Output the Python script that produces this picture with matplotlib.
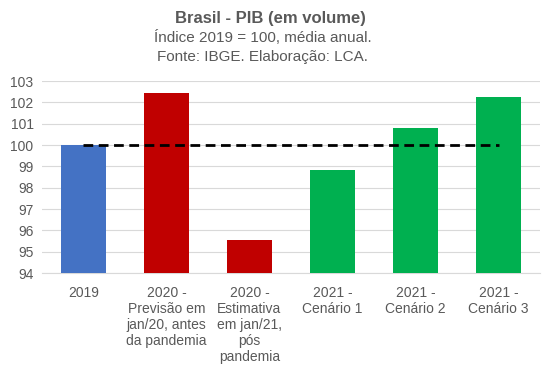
import matplotlib
matplotlib.use("Agg")
import matplotlib.pyplot as plt

plt.rcParams['font.family'] = ['Liberation Sans', 'DejaVu Sans']

categorias = ["2019", "2020 -\nPrevisão em\njan/20, antes\nda pandemia",
              "2020 -\nEstimativa\nem jan/21,\npós\npandemia",
              "2021 -\nCenário 1", "2021 -\nCenário 2", "2021 -\nCenário 3"]
valores = [100.0, 102.45, 95.55, 98.85, 100.82, 102.27]
cores = ["#4472C4", "#C00000", "#C00000", "#00B050", "#00B050", "#00B050"]
referencia = 100
yticks = list(range(94, 104))

cinza = "#595959"
fig = plt.figure(figsize=(5.58, 3.67), dpi=100)
ax = fig.add_axes([0.075, 0.256, 0.893, 0.523])

x = list(range(len(categorias)))
ax.bar(x, [v - 94 for v in valores], bottom=94, width=0.55, color=cores, zorder=3)
ax.plot([x[0], x[-1]], [referencia, referencia], color="black", lw=2,
        linestyle=(0, (3.5, 2)), zorder=4)

ax.set_xlim(-0.5, len(categorias) - 0.5)
ax.set_ylim(94, 103)
ax.set_yticks(yticks)
ax.set_yticklabels([str(t) for t in yticks], fontsize=10, color=cinza)
ax.set_xticks(x)
ax.set_xticklabels(categorias, fontsize=10, color=cinza, linespacing=1.2)
ax.tick_params(axis="x", length=0, pad=9)
ax.tick_params(axis="y", length=0, pad=6)
ax.grid(axis="y", color="#D9D9D9", lw=0.8, zorder=0)
for s in ["top", "right", "left"]:
    ax.spines[s].set_visible(False)
ax.spines["bottom"].set_color("#D9D9D9")

fig.text(0.485, 0.950, "Brasil - PIB (em volume)", ha="center", va="center",
         fontsize=12, fontweight="bold", color=cinza)
fig.text(0.471, 0.898, "Índice 2019 = 100, média anual.", ha="center", va="center",
         fontsize=11, color=cinza)
fig.text(0.471, 0.846, "Fonte: IBGE. Elaboração: LCA.", ha="center", va="center",
         fontsize=11, color=cinza)

fig.savefig("out.png", dpi=100)
